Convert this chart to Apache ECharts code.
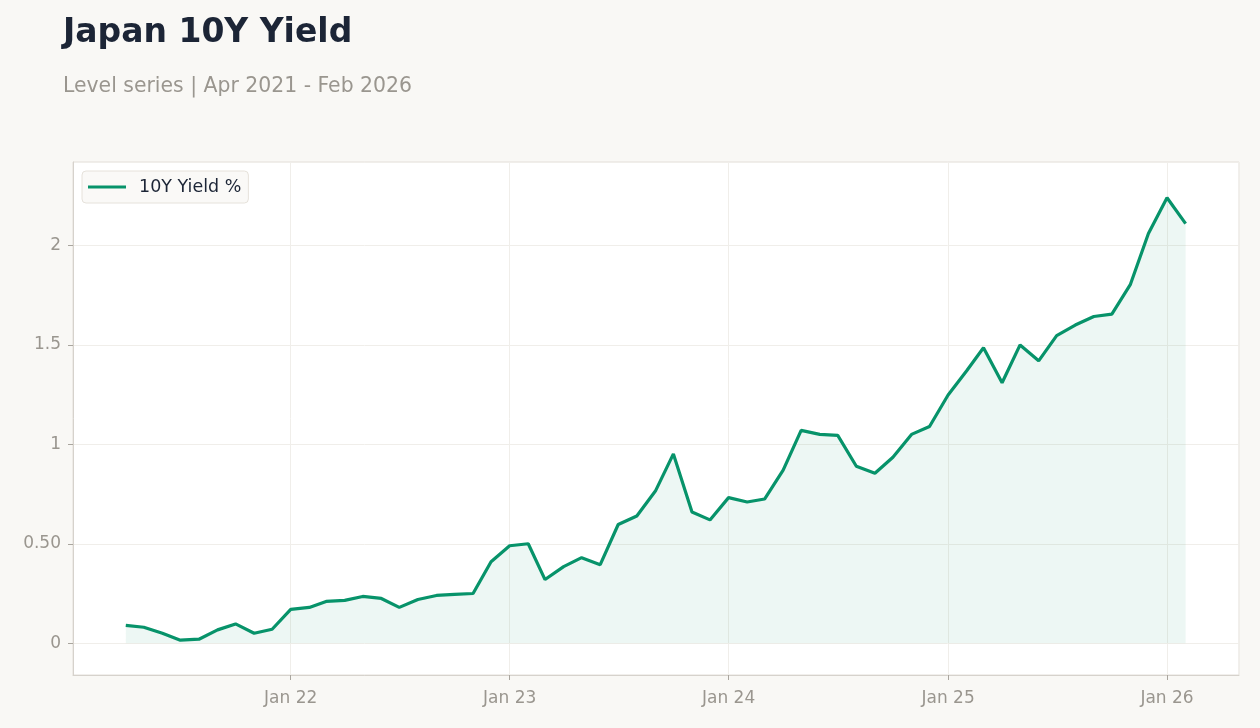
<!DOCTYPE html>
<html>
<head>
<meta charset="utf-8">
<script src="https://cdn.jsdelivr.net/npm/echarts@6/dist/echarts.min.js"></script>
<style>
  html, body { margin: 0; padding: 0; background: #f9f8f5; }
  #chart { width: 1260px; height: 728px; }
</style>
</head>
<body>
<div id="chart"></div>
<script>
// monthly dates, Apr 2021 - Feb 2026
const months = [
  '2021-04-01', '2021-05-01', '2021-06-01', '2021-07-01', '2021-08-01', '2021-09-01',
  '2021-10-01', '2021-11-01', '2021-12-01',
  '2022-01-01', '2022-02-01', '2022-03-01', '2022-04-01', '2022-05-01', '2022-06-01',
  '2022-07-01', '2022-08-01', '2022-09-01', '2022-10-01', '2022-11-01', '2022-12-01',
  '2023-01-01', '2023-02-01', '2023-03-01', '2023-04-01', '2023-05-01', '2023-06-01',
  '2023-07-01', '2023-08-01', '2023-09-01', '2023-10-01', '2023-11-01', '2023-12-01',
  '2024-01-01', '2024-02-01', '2024-03-01', '2024-04-01', '2024-05-01', '2024-06-01',
  '2024-07-01', '2024-08-01', '2024-09-01', '2024-10-01', '2024-11-01', '2024-12-01',
  '2025-01-01', '2025-02-01', '2025-03-01', '2025-04-01', '2025-05-01', '2025-06-01',
  '2025-07-01', '2025-08-01', '2025-09-01', '2025-10-01', '2025-11-01', '2025-12-01',
  '2026-01-01', '2026-02-01'
]

// 10Y yield %
const yields = [
  0.09, 0.08, 0.05, 0.015, 0.02, 0.067, 0.097, 0.05, 0.07,
  0.17, 0.18, 0.21, 0.215, 0.235, 0.225, 0.18, 0.22, 0.24, 0.245, 0.25, 0.41,
  0.49, 0.50, 0.32, 0.385, 0.43, 0.395, 0.597, 0.64, 0.765, 0.952, 0.66, 0.62,
  0.732, 0.71, 0.725, 0.87, 1.07, 1.05, 1.045, 0.89, 0.855, 0.935, 1.05, 1.09,
  1.248, 1.37, 1.486, 1.31, 1.50, 1.42, 1.547, 1.60, 1.643, 1.655, 1.805, 2.06,
  2.24, 2.11
]

const yTicks = [0, 0.5, 1, 1.5, 2]
const yTickLabels = ['0', '0.50', '1', '1.5', '2']

const chart = echarts.init(document.getElementById('chart'))
const font = 'DejaVu Sans'
const labelColor = '#9a968f'
const splitColor = '#f0eeea'

const option = {
  backgroundColor: '#f9f8f5',
  textStyle: { fontFamily: font },
  title: {
    text: 'Japan 10Y Yield',
    subtext: 'Level series | Apr 2021 - Feb 2026',
    left: 58,
    top: 12,
    itemGap: 27,
    textStyle: { fontFamily: font, fontSize: 33, fontWeight: 'bold', color: '#1c2536' },
    subtextStyle: { fontFamily: font, fontSize: 20.4, color: '#9a968f' }
  },
  legend: {
    left: 82,
    top: 171,
    padding: [7, 7, 7, 6],
    backgroundColor: '#faf9f7',
    borderColor: '#e6e2db',
    borderWidth: 1,
    borderRadius: 4,
    itemWidth: 38,
    itemHeight: 3,
    icon: 'rect',
    textStyle: { fontFamily: font, fontSize: 17.5, color: '#1c2536', padding: [0, 0, 0, 8] },
    data: ['10Y Yield %']
  },
  grid: {
    left: 73,
    right: 21,
    top: 162,
    bottom: 53,
    show: true,
    backgroundColor: '#ffffff',
    borderColor: '#e2dfd9',
    borderWidth: 1
  },
  xAxis: {
    type: 'time',
    min: '2021-01-03',
    max: '2026-05-01',
    minInterval: 365 * 24 * 3600 * 1000,
    maxInterval: 366 * 24 * 3600 * 1000,
    axisLine: { show: true, onZero: false, lineStyle: { color: '#d6d2cc' } },
    axisTick: { show: true, length: 5, lineStyle: { color: '#a9a59e' } },
    splitLine: { show: true, lineStyle: { color: splitColor } },
    axisLabel: {
      color: labelColor,
      fontSize: 17,
      margin: 15,
      showMinLabel: false,
      showMaxLabel: false,
      formatter(val) {
        const d = new Date(val)
        if (d.getMonth() !== 0) return ''
        return 'Jan ' + String(d.getFullYear()).slice(2)
      }
    }
  },
  yAxis: {
    type: 'value',
    min: -0.16,
    max: 2.42,
    splitNumber: 5,
    axisLine: { show: true, lineStyle: { color: '#d6d2cc' } },
    axisTick: { show: true, length: 5, lineStyle: { color: '#a9a59e' } },
    splitLine: { show: true, lineStyle: { color: splitColor } },
    axisLabel: {
      color: labelColor,
      fontSize: 17,
      margin: 12,
      showMinLabel: false,
      showMaxLabel: false,
      formatter(val) {
        const i = yTicks.findIndex(t => Math.abs(t - val) < 1e-6)
        return i >= 0 ? yTickLabels[i] : ''
      }
    }
  },
  series: [
    {
      name: '10Y Yield %',
      type: 'line',
      data: months.map((m, i) => [m, yields[i]]),
      showSymbol: false,
      symbol: 'none',
      lineStyle: { color: '#07936a', width: 3.2 },
      itemStyle: { color: '#07936a' },
      areaStyle: { color: 'rgba(7, 147, 106, 0.1)' }
    }
  ]
}

chart.setOption(option)
window.addEventListener('resize', () => chart.resize())
</script>
</body>
</html>
